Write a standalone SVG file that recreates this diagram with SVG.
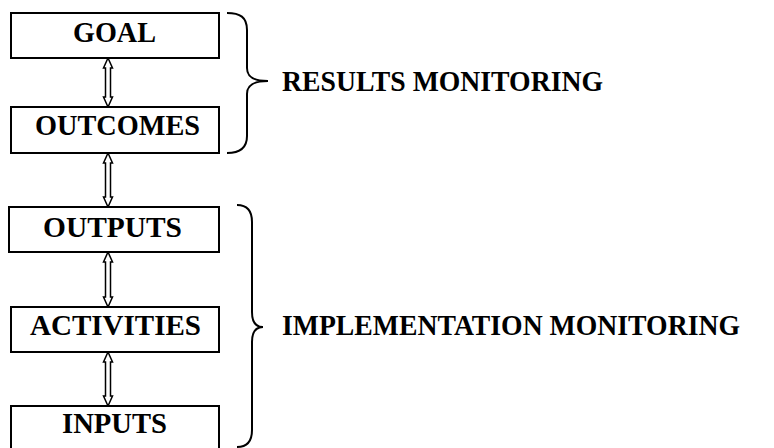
<svg xmlns="http://www.w3.org/2000/svg" width="774" height="448" viewBox="0 0 774 448">
<style>
.box{fill:#fff;stroke:#000;stroke-width:2}
.t{font-family:"Liberation Serif","Times New Roman",serif;font-weight:bold;font-size:29px;fill:#000}
.c{text-anchor:middle}
.arr{fill:#fff;stroke:#000;stroke-width:1.5;stroke-linejoin:miter}
.brace{fill:none;stroke:#000;stroke-width:2}
</style>
<rect width="774" height="448" fill="#fff"/>
<g id="connectors">
<path class="arr" d="M108,58 L112.5,68 L110.5,68 L110.5,97 L112.5,97 L108,107 L103.5,97 L105.5,97 L105.5,68 L103.5,68 Z"/>
<path class="arr" d="M108,153 L112.5,163 L110.5,163 L110.5,197 L112.5,197 L108,207 L103.5,197 L105.5,197 L105.5,163 L103.5,163 Z"/>
<path class="arr" d="M108,252 L112.5,262 L110.5,262 L110.5,297 L112.5,297 L108,307 L103.5,297 L105.5,297 L105.5,262 L103.5,262 Z"/>
<path class="arr" d="M108,352 L112.5,362 L110.5,362 L110.5,396 L112.5,396 L108,406 L103.5,396 L105.5,396 L105.5,362 L103.5,362 Z"/>
</g>
<g id="goal"><rect class="box" x="11" y="13" width="208" height="45"/><text class="t" x="73" y="42" textLength="83" lengthAdjust="spacingAndGlyphs">GOAL</text></g>
<g id="outcomes"><rect class="box" x="11" y="107" width="208" height="46"/><text class="t" x="35" y="135" textLength="165" lengthAdjust="spacingAndGlyphs">OUTCOMES</text></g>
<g id="outputs"><rect class="box" x="9" y="207" width="210" height="45"/><text class="t" x="43" y="237" textLength="139" lengthAdjust="spacingAndGlyphs">OUTPUTS</text></g>
<g id="activities"><rect class="box" x="11" y="307" width="208" height="45"/><text class="t" x="30" y="335" textLength="171" lengthAdjust="spacingAndGlyphs">ACTIVITIES</text></g>
<g id="inputs"><rect class="box" x="11" y="406" width="208" height="48"/><text class="t" x="62" y="433" textLength="105" lengthAdjust="spacingAndGlyphs">INPUTS</text></g>
<g id="results-monitoring">
<path class="brace" d="M227,13 C240,13 247,17 247,30 L247,68 C247,78 255,81 268,81 C255,81 247,84 247,94 L247,136 C247,148 240,153 227,153"/>
<text class="t" x="282" y="91" textLength="321" lengthAdjust="spacingAndGlyphs">RESULTS MONITORING</text>
</g>
<g id="implementation-monitoring">
<path class="brace" d="M237,205 C247,205 252,210 252,222 L252,312 C252,322 256,327 263,327 C256,327 252,332 252,342 L252,430 C252,442 247,447 237,447"/>
<text class="t" x="282" y="335" textLength="458" lengthAdjust="spacingAndGlyphs">IMPLEMENTATION MONITORING</text>
</g>
</svg>
